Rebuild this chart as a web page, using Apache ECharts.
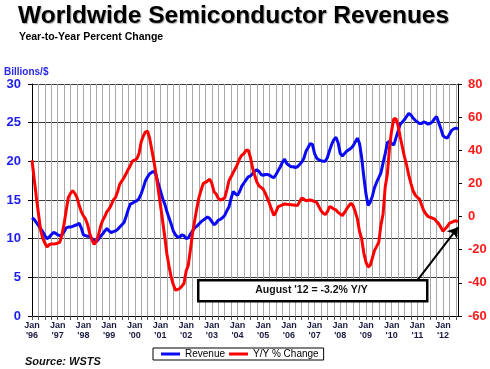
<!DOCTYPE html>
<html><head><meta charset="utf-8">
<script src="https://cdn.jsdelivr.net/npm/echarts@6/dist/echarts.min.js"></script>
<style>html,body{margin:0;padding:0;background:#fff}#c{width:490px;height:369px}</style>
</head><body><div id="c"></div>
<script>
// ---- data ----
const years = ['1996','1997','1998','1999','2000','2001','2002','2003','2004','2005','2006','2007','2008','2009','2010','2011','2012'];
const monthsInLastYear = 8; // data through August 2012
const monthNames = ['01','02','03','04','05','06','07','08','09','10','11','12'];

// Revenue, billions of $ (3-month average), monthly Jan'96 .. Aug'12
const revenue = [
  12.7,12.5,12.1,11.7,11.3,10.9,10.4,10.0,10.2,10.5,10.8,10.7, // 1996
  10.5,10.4,10.5,10.9,11.4,11.5,11.5,11.6,11.7,11.8,12.0,11.4, // 1997
  10.5,10.4,10.3,10.3,10.0,9.8,9.6,9.9,10.3,10.6,11.0,11.3,    // 1998
  11.0,10.8,10.9,11.0,11.2,11.5,11.8,12.1,12.9,13.8,14.5,14.6, // 1999
  14.8,14.9,15.2,15.8,16.6,17.5,18.0,18.4,18.6,18.7,18.2,17.1, // 2000
  16.2,15.2,14.5,13.5,12.7,11.9,11.0,10.5,10.2,10.2,10.5,10.4, // 2001
  10.0,10.1,10.6,11.0,11.4,11.6,11.9,12.2,12.4,12.6,12.8,12.6, // 2002
  12.2,11.8,12.0,12.4,12.5,12.7,13.0,13.6,14.1,15.2,16.1,15.8, // 2003
  15.6,16.1,16.8,17.2,17.6,18.0,18.1,18.4,18.7,18.9,18.7,18.3, // 2004
  18.2,18.3,18.3,18.2,18.0,17.9,18.3,18.8,19.3,19.9,20.3,19.7, // 2005
  19.5,19.3,19.3,19.2,19.3,19.6,19.9,20.4,21.3,21.8,22.3,22.2, // 2006
  21.0,20.4,20.2,20.1,20.0,20.0,20.5,21.4,22.2,22.8,23.1,22.4, // 2007
  21.0,20.7,21.0,21.3,21.5,21.7,22.0,22.5,23.0,22.3,20.5,18.0, // 2008
  15.8,14.3,14.7,15.5,16.6,17.3,17.9,18.5,19.8,21.0,22.4,22.6, // 2009
  22.3,22.1,23.0,23.9,24.8,25.1,25.4,25.8,26.2,26.0,25.6,25.3, // 2010
  25.1,24.9,24.9,25.1,25.0,24.8,24.9,25.1,25.5,25.8,25.0,24.2, // 2011
  23.3,23.1,23.0,23.5,24.0,24.2,24.3,24.2                      // 2012
];

// Year-to-year % change, monthly Jan'96 .. Aug'12
const yoyChange = [
  34,23,12,2,-8,-13,-16,-18.4,-17,-16.5,-16.5,-16.4,        // 1996
  -16,-15.4,-11,-4.4,4,11.6,14,15.6,14,11.6,7,3,            // 1997
  0.5,-1.4,-5,-10.4,-14,-16.8,-15,-11.4,-6,-2.4,0,3,         // 1998
  4.6,7,10,11.6,15,19.6,21.5,23.6,26,28.6,31,33.6,           // 1999
  34,35,38,45,48.6,51,51.6,47,40,33,25,16,                   // 2000
  7,-2.4,-12,-22.4,-30,-36.4,-41,-44.4,-44,-43.4,-42,-40.4,  // 2001
  -33,-29.4,-20,-10,-2.4,5,11.6,16,20,20.6,21.5,22.6,        // 2002
  20,15,13.6,11,10,10.5,11.2,16,21.6,24,26.6,29,             // 2003
  31.6,35,37,38,40,40,36,29.6,25,21,18.6,17.5,               // 2004
  16.6,14,11,7.6,4,0.6,3,6,6.5,7,7.6,7.4,                    // 2005
  7.3,7.2,7,6.8,6.6,9,11.2,10.5,9.6,9.8,10,9.6,              // 2006
  9,8.6,6,3.6,2,1.2,3,6,5.5,4.5,4,2.5,                       // 2007
  1.5,0.6,2.5,4.6,6.5,8,6.6,3,-1.4,-9,-13.4,-22,             // 2008
  -27.5,-30.4,-29.4,-25,-20.4,-18,-15.4,-5,1.6,18,25.6,41.6, // 2009
  52,59,59,55,48,42,36,31,25,20,15.6,13,                     // 2010
  11.6,10.6,7,3.6,1.5,0,-0.4,-1,-1.4,-3,-4.4,-6.5,           // 2011
  -8.8,-7.4,-6,-4,-3.5,-2.8,-2.5,-3.2                        // 2012
];

const leftAxis = {min: 0, max: 30, step: 5};
const rightAxis = {min: -60, max: 80, step: 20};
const annotationText = "August '12 = -3.2% Y/Y";
const arrowFrom = {month: 180, value: -38.5};
const arrowTo = {month: 199, value: -6.5};

// ---- build ----
const categories = [];
years.forEach((y, i) => {
  const n = i === years.length - 1 ? monthsInLastYear : 12;
  for (let k = 0; k < n; k++) categories.push(y + '-' + monthNames[k]);
});

const FONT = '"Liberation Sans", Arial, sans-serif';
const chart = echarts.init(document.getElementById('c'), null, {renderer: 'canvas'});
chart.setOption({
  animation: false,
  backgroundColor: '#fff',
  title: [
    {text: 'Worldwide Semiconductor Revenues', left: 18, top: 4, padding: 0,
     textStyle: {fontFamily: FONT, fontSize: 24.5, fontWeight: 'bold', color: '#000',
       textShadowColor: 'rgba(0,0,0,0.35)', textShadowBlur: 1, textShadowOffsetX: 1, textShadowOffsetY: 1}},
    {text: 'Year-to-Year Percent Change', left: 19, top: 32, padding: 0,
     textStyle: {fontFamily: FONT, fontSize: 10.5, fontWeight: 'bold', color: '#000'}}
  ],
  grid: {left: 32, right: 32, top: 84, bottom: 53, containLabel: false},
  legend: {
    left: 153, top: 348, padding: [1, 5, 1, 8], itemGap: 4,
    itemWidth: 19, itemHeight: 3, icon: 'rect',
    borderColor: '#000', borderWidth: 1, backgroundColor: '#fff',
    textStyle: {fontFamily: FONT, fontSize: 10, color: '#000'},
    data: ['Revenue', 'Y/Y % Change']
  },
  xAxis: {
    type: 'category', data: categories, boundaryGap: false,
    axisLine: {lineStyle: {color: '#000', width: 1}},
    axisTick: {show: true, interval: (i) => i % 3 === 0, length: 4, lineStyle: {color: '#555'}},
    splitLine: {show: true, interval: (i) => i % 3 === 0, lineStyle: {color: '#a8a8a8', width: 1}},
    axisLabel: {
      interval: (i) => i % 12 === 0, margin: 5,
      fontFamily: FONT, fontSize: 9, fontWeight: 'bold', color: '#1a1a40', lineHeight: 10,
      formatter: (v) => "Jan\n'" + v.slice(2, 4)
    }
  },
  yAxis: [
    {type: 'value', position: 'left', min: leftAxis.min, max: leftAxis.max, interval: leftAxis.step,
     axisLine: {show: true, lineStyle: {color: '#000'}},
     axisTick: {show: true, length: 4, lineStyle: {color: '#000'}},
     splitLine: {show: true, lineStyle: {color: '#3a3a3a', width: 1}},
     axisLabel: {margin: 11, fontFamily: FONT, fontSize: 13, fontWeight: 'bold', color: '#1c1cf0'}},
    {type: 'value', position: 'right', min: rightAxis.min, max: rightAxis.max, interval: rightAxis.step,
     axisLine: {show: true, lineStyle: {color: '#000'}},
     axisTick: {show: true, length: 4, lineStyle: {color: '#000'}},
     splitLine: {show: false},
     axisLabel: {margin: 10, fontFamily: FONT, fontSize: 13, fontWeight: 'bold', color: '#ff1a1a'}}
  ],
  series: [
    {name: 'Revenue', type: 'line', yAxisIndex: 0, data: revenue, showSymbol: false, symbol: 'none',
     lineStyle: {color: '#0a0af5', width: 3}, itemStyle: {color: '#0a0af5'}, z: 3},
    {name: 'Y/Y % Change', type: 'line', yAxisIndex: 1, data: yoyChange, showSymbol: false, symbol: 'none',
     lineStyle: {color: '#ff0000', width: 3}, itemStyle: {color: '#ff0000'}, z: 4,
     markLine: {
       silent: true, symbol: ['none', 'arrow'], symbolSize: 10,
       lineStyle: {color: '#000', width: 2, type: 'solid'}, label: {show: false},
       data: [[{coord: [categories[arrowFrom.month], arrowFrom.value]},
               {coord: [categories[arrowTo.month], arrowTo.value]}]]
     }}
  ],
  graphic: [
    {type: 'text', left: 4, top: 67, z: 10,
     style: {text: 'Billions/$', font: 'bold 10px ' + FONT, fill: '#2a2ae6'}},
    {type: 'rect', left: 197, top: 279, z: 100, zlevel: 1,
     shape: {x: 0, y: 0, width: 229, height: 21},
     style: {fill: '#fff', stroke: '#000', lineWidth: 2.5}},
    {type: 'text', x: 311.5, y: 290, z: 101, zlevel: 1,
     style: {text: annotationText, font: 'bold 10.5px ' + FONT, fill: '#111',
             align: 'center', verticalAlign: 'middle'}},
    {type: 'text', left: 25, top: 356, z: 10,
     style: {text: 'Source: WSTS', font: 'italic bold 11px ' + FONT, fill: '#111'}}
  ]
});
</script>
</body></html>
